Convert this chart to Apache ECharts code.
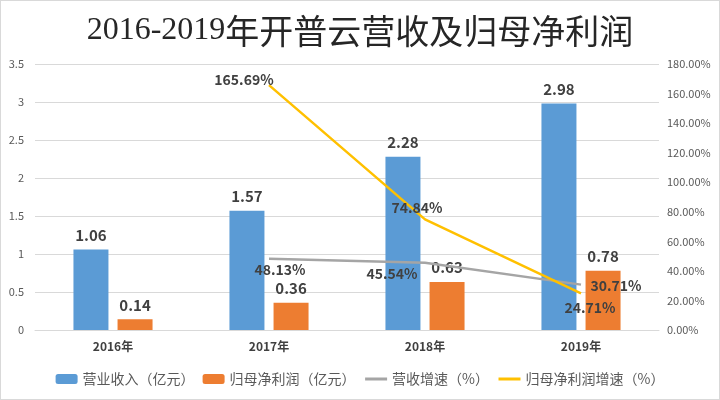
<!DOCTYPE html>
<html><head><meta charset="utf-8">
<script src="https://cdn.jsdelivr.net/npm/echarts@6/dist/echarts.min.js"></script>
<style>
html,body{margin:0;padding:0;background:#fff;}
#c{width:718px;height:398px;border:1px solid #d9d9d9;}
</style></head>
<body><div id="c"></div>
<script>
const categories = ['2016年','2017年','2018年','2019年'];
const revenue = [1.06, 1.57, 2.28, 2.98];
const netProfit = [0.14, 0.36, 0.63, 0.78];
const revenueGrowth = [null, 48.13, 45.54, 30.71];
const profitGrowth = [null, 165.69, 74.84, 24.71];
const leftTicks = {min:0, max:3.5, interval:0.5};
const rightTicks = {min:0, max:180, interval:20};

const labelColor = '#404040';
const font = '"Noto Sans CJK SC", "Noto Sans", sans-serif';

const revOffsets = [null, [11, 11], [-33, 11], [35, 1]];
const profOffsets = [null, [-25, -5], [-8, -12], [9, 14]];

function lineData(vals, offs) {
  return vals.map((v, i) => v == null ? null : {
    value: v,
    label: {offset: offs[i]}
  });
}

const chart = echarts.init(document.getElementById('c'));
chart.setOption({
  animation: false,
  textStyle: {fontFamily: font},
  title: {
    text: '{d|2016-2019}{c|年开普云营收及归母净利润}',
    left: 'center', top: 7,
    textStyle: {
      fontWeight: 'normal',
      rich: {
        d: {fontSize: 32, fontWeight: 'normal', color: '#262626', fontFamily: '"Liberation Serif", serif', lineHeight: 36},
        c: {fontSize: 34, fontWeight: 'normal', color: '#262626', fontFamily: '"Noto Sans CJK SC", sans-serif', lineHeight: 36}
      }
    }
  },
  legend: {
    bottom: 8, left: 'center',
    itemWidth: 22, itemHeight: 10, itemGap: 8,
    textStyle: {fontSize: 14, color: '#595959', fontFamily: font},
    data: [
      {name: '营业收入（亿元）'},
      {name: '归母净利润（亿元）'},
      {name: '营收增速（%）', itemStyle: {opacity: 0}, lineStyle: {color: '#A5A5A5', width: 3}},
      {name: '归母净利润增速（%）', itemStyle: {opacity: 0}, lineStyle: {color: '#FFC000', width: 3}}
    ]
  },
  grid: {left: 34, right: 60, top: 63, bottom: 69, containLabel: false},
  xAxis: {
    type: 'category', data: categories,
    axisLine: {lineStyle: {color: '#d9d9d9'}},
    axisTick: {show: false},
    axisLabel: {color: labelColor, fontSize: 12, fontWeight: 'bold', margin: 10}
  },
  yAxis: [{
    type: 'value', min: leftTicks.min, max: leftTicks.max, interval: leftTicks.interval,
    axisLine: {show: false}, axisTick: {show: false},
    splitLine: {lineStyle: {color: '#d9d9d9'}},
    axisLabel: {color: '#595959', fontSize: 11, margin: 11}
  }, {
    type: 'value', min: rightTicks.min, max: rightTicks.max, interval: rightTicks.interval,
    axisLine: {show: false}, axisTick: {show: false},
    splitLine: {show: false},
    axisLabel: {color: '#595959', fontSize: 11, margin: 8, formatter: v => v.toFixed(2) + '%'}
  }],
  series: [{
    name: '营业收入（亿元）', type: 'bar', data: revenue,
    barWidth: 35, barGap: '26%',
    itemStyle: {color: '#5B9BD5'},
    label: {show: true, position: 'top', distance: 7, color: labelColor, fontSize: 15, fontWeight: 'bold'}
  }, {
    name: '归母净利润（亿元）', type: 'bar', data: netProfit,
    barWidth: 35, barGap: '26%',
    itemStyle: {color: '#ED7D31'},
    label: {show: true, position: 'top', distance: 7, color: labelColor, fontSize: 15, fontWeight: 'bold'}
  }, {
    name: '营收增速（%）', type: 'line', yAxisIndex: 1,
    data: lineData(revenueGrowth, revOffsets),
    symbol: 'circle', symbolSize: 0,
    lineStyle: {color: '#A5A5A5', width: 2.5},
    itemStyle: {color: '#A5A5A5'},
    label: {show: true, position: 'inside', color: labelColor, fontSize: 14, fontWeight: 'bold',
      formatter: p => p.value.toFixed(2) + '%'}
  }, {
    name: '归母净利润增速（%）', type: 'line', yAxisIndex: 1,
    data: lineData(profitGrowth, profOffsets),
    symbol: 'circle', symbolSize: 0,
    lineStyle: {color: '#FFC000', width: 2.5},
    itemStyle: {color: '#FFC000'},
    label: {show: true, position: 'inside', color: labelColor, fontSize: 14, fontWeight: 'bold',
      formatter: p => p.value.toFixed(2) + '%'}
  }]
});
</script></body></html>
